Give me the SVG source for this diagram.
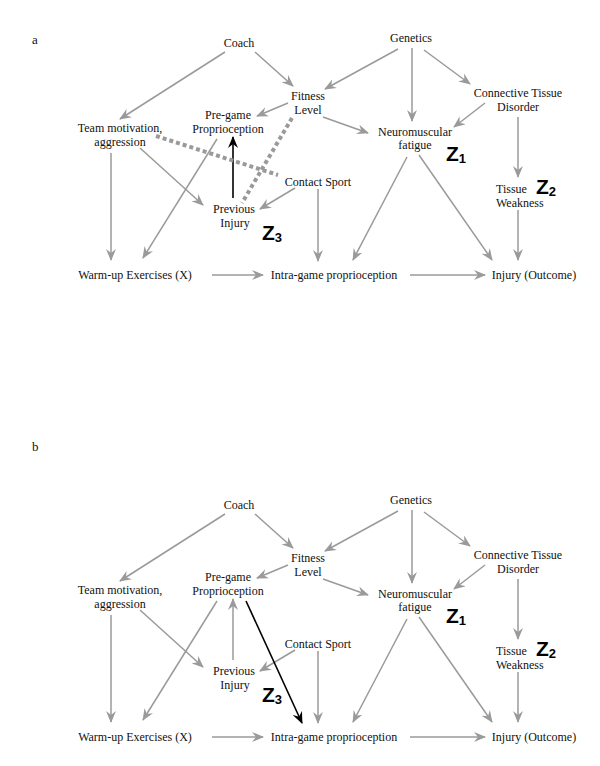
<svg xmlns="http://www.w3.org/2000/svg" width="600" height="766" viewBox="0 0 600 766">
<style>
text{font-family:"Liberation Serif","Times New Roman",Times,serif;font-size:12px;fill:#111}
.c{text-anchor:middle}
.z{font-family:"Liberation Sans",Arial,sans-serif;font-weight:bold;font-size:21px;fill:#000}
.zs{font-size:13px}
.e{stroke:#9a9a9a;stroke-width:1.5;fill:none;marker-end:url(#ag)}
.k{stroke:#000;stroke-width:1.6;fill:none;marker-end:url(#ak)}
.d{stroke:#9a9a9a;stroke-width:4;stroke-dasharray:4 3;fill:none}
.lbl{font-size:13px}
</style>
<defs>
<marker id="ag" viewBox="0 0 12 10" refX="11" refY="5" markerWidth="12" markerHeight="10" markerUnits="userSpaceOnUse" orient="auto">
<path d="M0,0 L12,5 L0,10 L4,5 Z" fill="#9a9a9a"/>
</marker>
<marker id="ak" viewBox="0 0 12 10" refX="11" refY="5" markerWidth="12" markerHeight="10" markerUnits="userSpaceOnUse" orient="auto">
<path d="M0,0 L12,5 L0,10 L4,5 Z" fill="#000"/>
</marker>
</defs>
<rect width="600" height="766" fill="#fff"/>

<!-- Panel a -->
<text class="lbl" x="32" y="44">a</text>
<g id="panel-a">
<g id="a-connectors">
<line class="e" x1="225" y1="52" x2="120" y2="119"/>
<line class="e" x1="255" y1="52" x2="293" y2="86"/>
<line class="e" x1="398" y1="49" x2="325" y2="89"/>
<line class="e" x1="412" y1="48" x2="412" y2="121"/>
<line class="e" x1="424" y1="50" x2="470" y2="84"/>
<line class="e" x1="485" y1="103" x2="454" y2="127"/>
<line class="e" x1="323" y1="117" x2="368" y2="133"/>
<line class="e" x1="288" y1="103" x2="257" y2="116"/>
<line class="e" x1="518" y1="117" x2="518" y2="177"/>
<line class="e" x1="518" y1="210" x2="518" y2="260"/>
<line class="e" x1="407" y1="157" x2="353" y2="260"/>
<line class="e" x1="419" y1="155" x2="492" y2="260"/>
<line class="e" x1="410" y1="275" x2="485" y2="275"/>
<line class="e" x1="212" y1="275" x2="263" y2="275"/>
<line class="e" x1="318" y1="189" x2="318" y2="261"/>
<line class="e" x1="295" y1="188" x2="260" y2="209"/>
<line class="e" x1="140" y1="148" x2="203" y2="205"/>
<line class="e" x1="111" y1="153" x2="111" y2="260"/>
<line class="e" x1="217" y1="139" x2="143" y2="258"/>
<line class="k" x1="233" y1="198" x2="233" y2="137"/>
<line class="d" x1="156" y1="136" x2="278" y2="175"/>
<line class="d" x1="292" y1="118" x2="242" y2="203"/>
</g>
<g id="a-coach"><text class="c" x="239" y="47">Coach</text></g>
<g id="a-genetics"><text class="c" x="411" y="42">Genetics</text></g>
<g id="a-fitness"><text class="c" x="308" y="100">Fitness</text><text class="c" x="308" y="114">Level</text></g>
<g id="a-pregame"><text class="c" x="228" y="119">Pre-game</text><text class="c" x="228" y="133">Proprioception</text></g>
<g id="a-team"><text class="c" x="120" y="132">Team motivation,</text><text class="c" x="120" y="146">aggression</text></g>
<g id="a-neuro"><text class="c" x="415" y="136">Neuromuscular</text><text class="c" x="415" y="149">fatigue</text></g>
<g id="a-connective"><text class="c" x="518" y="97">Connective Tissue</text><text class="c" x="518" y="111">Disorder</text></g>
<g id="a-contact"><text class="c" x="318" y="186">Contact Sport</text></g>
<g id="a-previous"><text class="c" x="234" y="213">Previous</text><text class="c" x="235" y="227">Injury</text></g>
<g id="a-tissue"><text x="496" y="193">Tissue</text><text x="496" y="207">Weakness</text></g>
<g id="a-warmup"><text class="c" x="135" y="279">Warm-up Exercises (X)</text></g>
<g id="a-intra"><text class="c" x="334" y="279">Intra-game proprioception</text></g>
<g id="a-injury"><text class="c" x="534" y="279">Injury (Outcome)</text></g>
<g id="a-z1"><text class="z" x="446" y="161">Z<tspan class="zs" dy="2">1</tspan></text></g>
<g id="a-z2"><text class="z" x="536" y="194">Z<tspan class="zs" dy="2">2</tspan></text></g>
<g id="a-z3"><text class="z" x="262" y="240">Z<tspan class="zs" dy="2">3</tspan></text></g>
</g>

<!-- Panel b -->
<text class="lbl" x="32" y="451">b</text>
<g id="panel-b" transform="translate(0,462)">
<g id="b-connectors">
<line class="e" x1="225" y1="52" x2="120" y2="119"/>
<line class="e" x1="255" y1="52" x2="293" y2="86"/>
<line class="e" x1="398" y1="49" x2="325" y2="89"/>
<line class="e" x1="412" y1="48" x2="412" y2="121"/>
<line class="e" x1="424" y1="50" x2="470" y2="84"/>
<line class="e" x1="485" y1="103" x2="454" y2="127"/>
<line class="e" x1="323" y1="117" x2="368" y2="133"/>
<line class="e" x1="288" y1="103" x2="257" y2="116"/>
<line class="e" x1="518" y1="117" x2="518" y2="177"/>
<line class="e" x1="518" y1="210" x2="518" y2="260"/>
<line class="e" x1="407" y1="157" x2="353" y2="260"/>
<line class="e" x1="419" y1="155" x2="492" y2="260"/>
<line class="e" x1="410" y1="275" x2="485" y2="275"/>
<line class="e" x1="212" y1="275" x2="263" y2="275"/>
<line class="e" x1="318" y1="189" x2="318" y2="261"/>
<line class="e" x1="295" y1="188" x2="260" y2="209"/>
<line class="e" x1="140" y1="148" x2="203" y2="205"/>
<line class="e" x1="111" y1="153" x2="111" y2="260"/>
<line class="e" x1="217" y1="139" x2="143" y2="258"/>
<line class="e" x1="233" y1="198" x2="233" y2="137"/>
<line class="k" x1="246" y1="139" x2="302" y2="261"/>
</g>
<g id="b-coach"><text class="c" x="239" y="47">Coach</text></g>
<g id="b-genetics"><text class="c" x="411" y="42">Genetics</text></g>
<g id="b-fitness"><text class="c" x="308" y="100">Fitness</text><text class="c" x="308" y="114">Level</text></g>
<g id="b-pregame"><text class="c" x="228" y="119">Pre-game</text><text class="c" x="228" y="133">Proprioception</text></g>
<g id="b-team"><text class="c" x="120" y="132">Team motivation,</text><text class="c" x="120" y="146">aggression</text></g>
<g id="b-neuro"><text class="c" x="415" y="136">Neuromuscular</text><text class="c" x="415" y="149">fatigue</text></g>
<g id="b-connective"><text class="c" x="518" y="97">Connective Tissue</text><text class="c" x="518" y="111">Disorder</text></g>
<g id="b-contact"><text class="c" x="318" y="186">Contact Sport</text></g>
<g id="b-previous"><text class="c" x="234" y="213">Previous</text><text class="c" x="235" y="227">Injury</text></g>
<g id="b-tissue"><text x="496" y="193">Tissue</text><text x="496" y="207">Weakness</text></g>
<g id="b-warmup"><text class="c" x="135" y="279">Warm-up Exercises (X)</text></g>
<g id="b-intra"><text class="c" x="334" y="279">Intra-game proprioception</text></g>
<g id="b-injury"><text class="c" x="534" y="279">Injury (Outcome)</text></g>
<g id="b-z1"><text class="z" x="446" y="161">Z<tspan class="zs" dy="2">1</tspan></text></g>
<g id="b-z2"><text class="z" x="536" y="194">Z<tspan class="zs" dy="2">2</tspan></text></g>
<g id="b-z3"><text class="z" x="262" y="240">Z<tspan class="zs" dy="2">3</tspan></text></g>
</g>
</svg>
